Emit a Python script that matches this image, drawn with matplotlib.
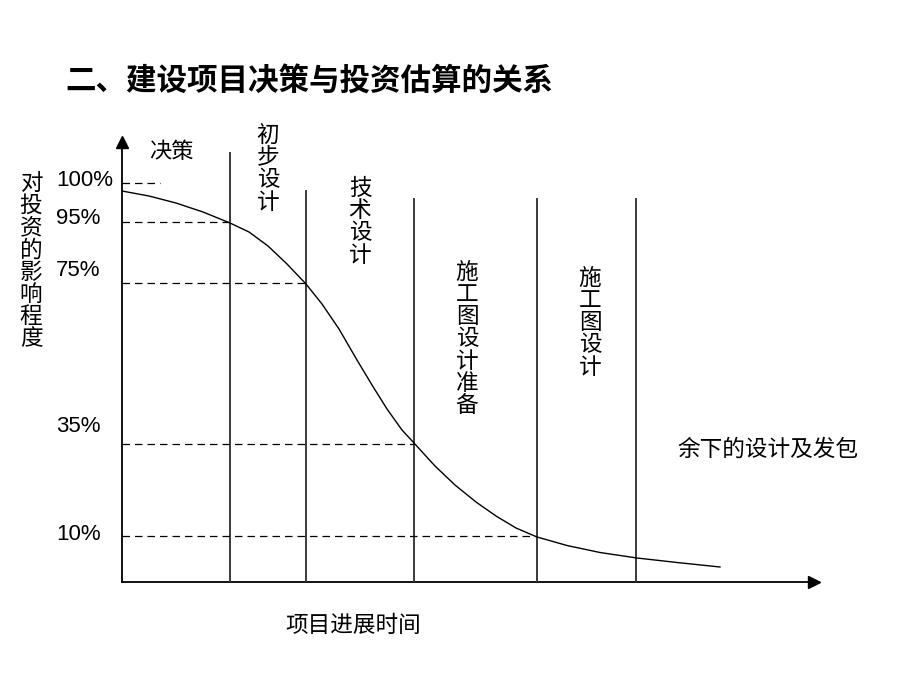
import matplotlib
matplotlib.use('Agg')
import matplotlib.pyplot as plt

plt.rcParams['font.family'] = ['Noto Sans CJK SC', 'DejaVu Sans']

title = '二、建设项目决策与投资估算的关系'
y_label = '对投资的影响程度'
x_label = '项目进展时间'

# phase boundaries along the time axis (schematic units) and the top of each line
phase_end = [108, 184, 292, 415, 514]
phase_top = [429, 391, 383, 383, 383]
phase_names = ['决策', '初步设计', '技术设计', '施工图设计准备', '施工图设计']
last_phase = '余下的设计及发包'

# influence levels: label, label height, guide height, where the dashed guide ends
level_labels = ['100%', '95%', '75%', '35%', '10%']
level_label_h = [401, 363, 311, 155, 48]
level_height = [399, 360, 299, 138, 46]
level_end = [38, 108, 184, 292, 415]

# influence curve
curve_t = [0, 27, 54, 81, 108, 127, 146, 165, 184, 200, 217, 235, 250, 265,
           280, 292, 313, 333, 354, 374, 394, 415, 445, 478, 515, 555, 598]
curve_h = [391, 386, 379, 370, 359, 350, 336, 318, 298, 278, 253, 222, 197, 173,
           152, 139, 116, 97, 80, 66, 54, 45, 36.5, 29.5, 24, 19.5, 15]

fig = plt.figure(figsize=(9.2, 6.9), dpi=100)
ax = fig.add_axes([122 / 920, 108 / 690, 700 / 920, 447 / 690])
ax.set_xlim(0, 700)
ax.set_ylim(0, 447)
ax.axis('off')

# axes with arrow heads
ax.plot([0, 688], [0, 0], color='black', lw=1.3, clip_on=False)
ax.plot([0, 0], [0, 438], color='black', lw=1.3, clip_on=False)
ax.plot([692], [0], marker='>', color='black', ms=8, clip_on=False)
ax.plot([0], [440], marker='^', color='black', ms=8, clip_on=False)

# phase boundaries
for t, top in zip(phase_end, phase_top):
    ax.plot([t, t], [0, top], color='#3a3a3a', lw=1.4)

# dashed guides
for h, e in zip(level_height, level_end):
    ax.plot([0, e], [h, h], color='black', lw=0.9, ls=(0, (6, 4)))

ax.plot(curve_t, curve_h, color='black', lw=1.0)

# level labels
for lab, h in zip(level_labels, level_label_h):
    ax.text(-66, h, lab, fontsize=16, family='Liberation Sans',
            ha='left', va='center', clip_on=False)

def vtext(x, y, s):
    ax.text(x, y, '\n'.join(s), ha='center', va='top', fontsize=16.3,
            linespacing=0.955, clip_on=False)

ax.text(27, 430, phase_names[0], fontsize=16, ha='left', va='center')
vtext(146, 458, phase_names[1])
vtext(238, 405, phase_names[2])
vtext(345, 321, phase_names[3])
vtext(468, 315, phase_names[4])
ax.text(555, 133, last_phase, fontsize=16.3, ha='left', va='center')

vtext(-91, 410, y_label)
ax.text(231, -43, x_label, fontsize=16.3, ha='center', va='center', clip_on=False)

fig.text(65 / 920, 1 - 81 / 690, title, fontsize=22, fontweight='bold',
         ha='left', va='center')

fig.savefig('out.png', dpi=100)
